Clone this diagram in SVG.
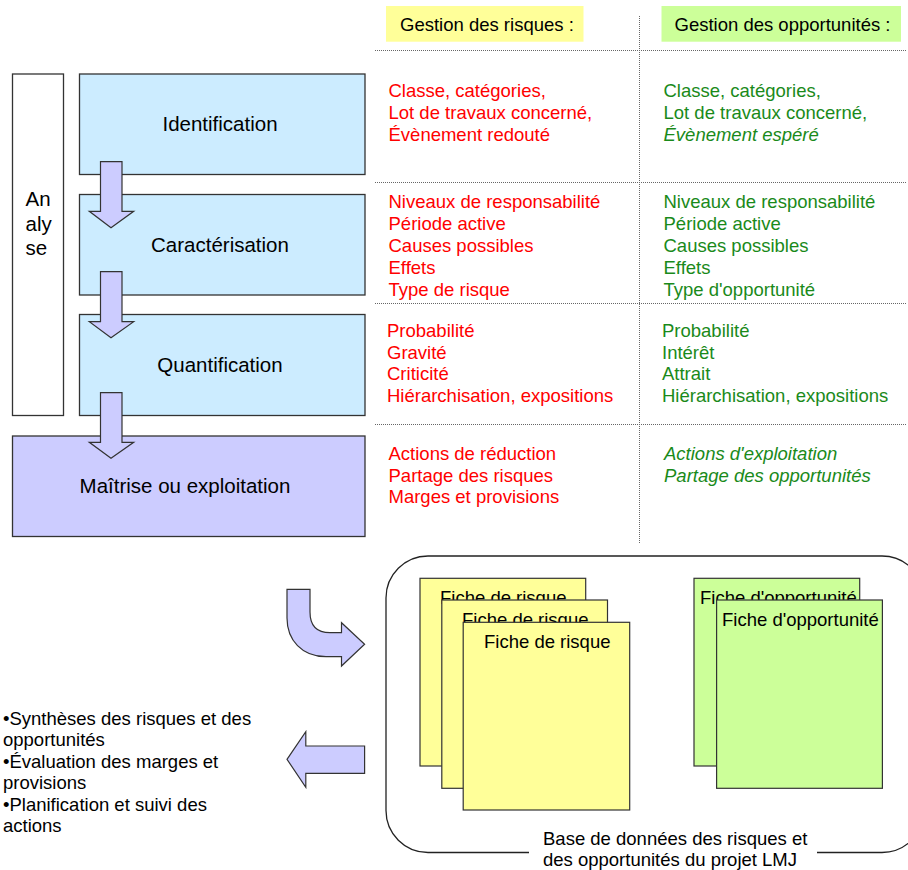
<svg xmlns="http://www.w3.org/2000/svg" width="908" height="870" viewBox="0 0 908 870">
<style>
text{font-family:"Liberation Sans",Arial,sans-serif;font-size:18.5px;fill:#000}
.lbl{font-size:20.5px;text-anchor:middle}
.red{fill:#ff0000}
.grn{fill:#1a8a1a}
.it{font-style:italic}
.box{stroke:#333;stroke-width:1.3}
.blue{fill:#ccecff}
.lav{fill:#ccccff}
.arr{fill:#ccccff;stroke:#333;stroke-width:1.2}
.dot{stroke:#666;stroke-width:1;stroke-dasharray:1 1;fill:none}
.yel{fill:#ffff99;stroke:#333;stroke-width:1.2}
.gr{fill:#ccff99;stroke:#333;stroke-width:1.2}
</style>
<rect width="908" height="870" fill="#fff"/>
<g id="header-risques">
<rect x="386" y="6" width="197.5" height="35.7" fill="#ffff99"/>
<text x="400" y="31">Gestion des risques :</text>
</g>
<g id="header-opportunites">
<rect x="661.5" y="6" width="239.5" height="35.7" fill="#ccff99"/>
<text x="674.5" y="31">Gestion des opportunités :</text>
</g>
<g id="grid">
<line class="dot" x1="639.5" y1="16" x2="639.5" y2="543"/>
<line class="dot" x1="375" y1="50.5" x2="906" y2="50.5"/>
<line class="dot" x1="375" y1="182.5" x2="906" y2="182.5"/>
<line class="dot" x1="375" y1="303.5" x2="906" y2="303.5"/>
<line class="dot" x1="375" y1="424.5" x2="906" y2="424.5"/>
</g>
<g id="analyse">
<rect class="box" x="12.5" y="74" width="51" height="341.5" fill="#fff"/>
<text x="25.5" y="206" style="font-size:20.5px">An</text>
<text x="25.5" y="231" style="font-size:20.5px">aly</text>
<text x="25.5" y="255" style="font-size:20.5px">se</text>
</g>
<g id="identification">
<rect class="box blue" x="79.5" y="74" width="285.5" height="100.5"/>
<text class="lbl" x="220" y="131">Identification</text>
</g>
<g id="caracterisation">
<rect class="box blue" x="79.5" y="194.5" width="285.5" height="100.5"/>
<text class="lbl" x="220" y="251.5">Caractérisation</text>
</g>
<g id="quantification">
<rect class="box blue" x="79.5" y="314.5" width="285.5" height="101"/>
<text class="lbl" x="220" y="372">Quantification</text>
</g>
<g id="maitrise">
<rect class="box lav" x="12.5" y="436" width="352.5" height="100.5"/>
<text class="lbl" x="185" y="492.5">Maîtrise ou exploitation</text>
</g>
<g id="connectors">
<path class="arr" d="M100.5,161.7 H122 V211.3 H133.7 L111,227.7 L89.3,211.3 H100.5 Z"/>
<path class="arr" d="M100.5,271.7 H122 V321.7 H133.7 L111,337.7 L89.3,321.7 H100.5 Z"/>
<path class="arr" d="M100.5,392.7 H122 V442.3 H133.7 L111,458.3 L89.3,442.3 H100.5 Z"/>
<path class="arr" d="M287,589.3 H310 V612 Q310,632.7 330,632.7 H341.5 V622.7 L364.6,644.3 L341.5,666 V656.7 H326 C302,656.7 287,640 287,618 Z"/>
<path class="arr" d="M287,759.3 L305.8,731.7 V746 H364.6 V773.3 H305.8 V787.3 Z"/>
</g>
<g id="risques-text" class="red">
<text class="red" x="388.5" y="97">Classe, catégories,</text>
<text class="red" x="388.5" y="119">Lot de travaux concerné,</text>
<text class="red" x="388.5" y="141">Évènement redouté</text>
<text class="red" x="388.5" y="207.5">Niveaux de responsabilité</text>
<text class="red" x="388.5" y="229.5">Période active</text>
<text class="red" x="388.5" y="251.5">Causes possibles</text>
<text class="red" x="388.5" y="273.5">Effets</text>
<text class="red" x="388.5" y="295.5">Type de risque</text>
<text class="red" x="387" y="336.5">Probabilité</text>
<text class="red" x="387" y="358.5">Gravité</text>
<text class="red" x="387" y="380">Criticité</text>
<text class="red" x="387" y="401.5">Hiérarchisation, expositions</text>
<text class="red" x="388.5" y="460">Actions de réduction</text>
<text class="red" x="388.5" y="481.5">Partage des risques</text>
<text class="red" x="388.5" y="503">Marges et provisions</text>
</g>
<g id="opportunites-text">
<text class="grn" x="663.5" y="97">Classe, catégories,</text>
<text class="grn" x="663.5" y="119">Lot de travaux concerné,</text>
<text class="grn it" x="663.5" y="141">Évènement espéré</text>
<text class="grn" x="663.5" y="207.5">Niveaux de responsabilité</text>
<text class="grn" x="663.5" y="229.5">Période active</text>
<text class="grn" x="663.5" y="251.5">Causes possibles</text>
<text class="grn" x="663.5" y="273.5">Effets</text>
<text class="grn" x="663.5" y="295.5">Type d'opportunité</text>
<text class="grn" x="662" y="336.5">Probabilité</text>
<text class="grn" x="662" y="358.5">Intérêt</text>
<text class="grn" x="662" y="380">Attrait</text>
<text class="grn" x="662" y="401.5">Hiérarchisation, expositions</text>
<text class="grn it" x="664" y="460">Actions d'exploitation</text>
<text class="grn it" x="664" y="481.5">Partage des opportunités</text>
</g>
<g id="base-donnees">
<path d="M529,852.5 H428 A42,42 0 0 1 386,810.5 V598 A42,42 0 0 1 428,556 H882 A42,42 0 0 1 924,598 V810.5 A42,42 0 0 1 882,852.5 H817" fill="none" stroke="#222" stroke-width="1.3"/>
<text x="543" y="845">Base de données des risques et</text>
<text x="543" y="866">des opportunités du projet LMJ</text>
</g>
<g id="fiche-risque-1">
<rect class="yel" x="420" y="578.3" width="165.7" height="187.7"/>
<text x="440" y="604">Fiche de risque</text>
</g>
<g id="fiche-risque-2">
<rect class="yel" x="441.8" y="600" width="165.7" height="188.3"/>
<text x="462" y="626">Fiche de risque</text>
</g>
<g id="fiche-risque-3">
<rect class="yel" x="463.2" y="622.3" width="166.5" height="187.7"/>
<text x="484" y="648">Fiche de risque</text>
</g>
<g id="fiche-opportunite-1">
<rect class="gr" x="694" y="578.3" width="165.7" height="187.7"/>
<text x="700" y="604">Fiche d'opportunité</text>
</g>
<g id="fiche-opportunite-2">
<rect class="gr" x="716.6" y="600" width="165.8" height="188.3"/>
<text x="722" y="625.7">Fiche d'opportunité</text>
</g>
<g id="syntheses">
<text x="3" y="724.5">•Synthèses des risques et des</text>
<text x="3" y="746">opportunités</text>
<text x="3" y="767.5">•Évaluation des marges et</text>
<text x="3" y="789">provisions</text>
<text x="3" y="810.5">•Planification et suivi des</text>
<text x="3" y="832">actions</text>
</g>
</svg>
